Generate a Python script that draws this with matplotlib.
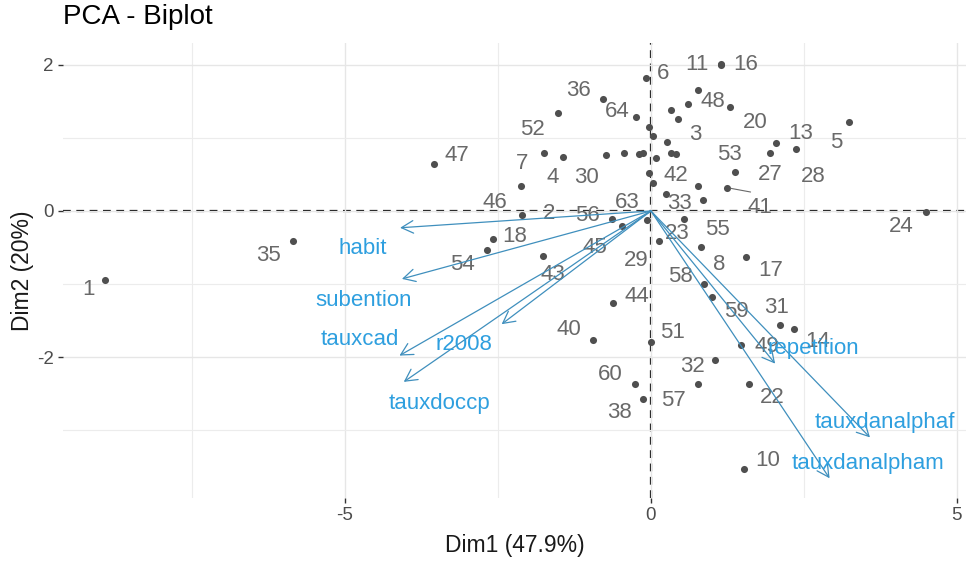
import matplotlib.pyplot as plt
import numpy as np

plt.rcParams['font.family'] = ['Liberation Sans', 'DejaVu Sans']
plt.rcParams['axes.unicode_minus'] = False

# individuals
ind_ids = [1, 35, 47, 54, 18, 46, 2, 7, 43, 52, 4, 40, 36, 30, 44, 56, 45, 60,
           64, 38, 6, 63, 51, 29, 33, 23, 3, 42, 48, 11, 16, 55, 8, 58, 59, 32,
           57, 41, 53, 20, 49, 10, 17, 22, 27, 13, 31, 14, 28, 5, 24,
           9, 12, 15, 19, 21, 25, 26, 34, 37, 39, 50, 61, 62]
ind_x = [-8.92, -5.85, -3.55, -2.68, -2.58, -2.13, -2.10, -1.74, -1.76, -1.52,
         -1.43, -0.94, -0.78, -0.74, -0.62, -0.64, -0.48, -0.26, -0.25, -0.13,
         -0.08, -0.07, 0.00, 0.13, 0.24, 0.54, 0.45, 0.77, 0.77, 1.14, 1.15,
         0.85, 0.82, 0.87, 1.00, 1.05, 0.77, 1.24, 1.37, 1.29, 1.47, 1.52, 1.55,
         1.61, 1.94, 2.05, 2.11, 2.34, 2.37, 3.24, 4.49,
         0.32, 0.61, 0.26, 0.33, 0.41, -0.44, -0.20, -0.13, -0.03, -0.03, 0.03,
         0.04, 0.08]
ind_y = [-0.94, -0.41, 0.65, -0.54, -0.38, 0.34, -0.06, 0.80, -0.61, 1.34,
         0.74, -1.77, 1.53, 0.76, -1.26, -0.11, -0.21, -2.37, 1.28, -2.57,
         1.82, -0.13, -1.80, -0.41, 0.23, -0.11, 1.26, 0.34, 1.66, 2.01, 2.00,
         0.15, -0.50, -1.00, -1.18, -2.04, -2.37, 0.32, 0.54, 1.42, -1.84, -3.53,
         -0.63, -2.37, 0.80, 0.93, -1.56, -1.62, 0.85, 1.22, -0.01,
         1.38, 1.47, 0.95, 0.80, 0.78, 0.79, 0.78, 0.80, 1.15, 0.52, 0.38,
         1.02, 0.73]

# variables (arrow tips)
var_names = ['habit', 'subention', 'tauxcad', 'tauxdoccp', 'r2008',
             'repetition', 'tauxdanalphaf', 'tauxdanalpham']
var_x = [-4.10, -4.07, -4.11, -4.04, -2.44, 2.03, 3.58, 2.92]
var_y = [-0.23, -0.93, -1.98, -2.34, -1.55, -2.09, -3.10, -3.66]

# label placement (offset in pixels from the point), like ggrepel did
ind_off = {
    1: (-17, -10), 35: (-25, -15), 47: (23, 8), 54: (-25, -14), 18: (22, 2),
    46: (-26, -16), 2: (27, 2), 7: (-22, -11), 43: (10, -19), 52: (-25, -16),
    4: (-11, -21), 40: (-25, 11), 36: (-25, 9), 30: (-19, -22), 44: (24, 6),
    56: (-24, 4), 45: (-27, -21), 60: (-25, 10), 64: (-18, 6), 38: (-23, -14),
    6: (17, 5), 63: (-19, 18), 51: (22, 10), 29: (-23, -20), 33: (14, -9),
    23: (-7, -14), 3: (17, -16), 42: (-22, 11), 48: (15, -12), 11: (-24, 0),
    16: (24, 0), 55: (15, -29), 8: (18, -17), 58: (-24, 8), 59: (24, -14),
    32: (-23, -7), 57: (-25, -16), 41: (33, -20), 53: (-5, 17), 20: (25, -15),
    49: (26, -1), 10: (24, 8), 17: (25, -14), 22: (23, -13), 27: (1, -22),
    13: (24, 10), 31: (-3, 17), 14: (24, -12), 28: (17, -28), 5: (-13, -21),
    24: (-24, -15),
}
var_off = {
    'habit': (-37, -21), 'subention': (-38, -22), 'tauxcad': (-40, 16),
    'tauxdoccp': (36, -22), 'r2008': (-38, -20), 'repetition': (38, 15),
    'tauxdanalphaf': (15, 15), 'tauxdanalpham': (38, 15),
}

col_ind = '#696969'
col_var = '#2E9FDF'

fig = plt.figure(figsize=(9.66, 5.65), dpi=100)
ax = fig.add_axes([63 / 966, 1 - 498 / 565, 1 - 63 / 966, (498 - 43) / 565])

ax.set_xlim(-9.61, 5.15)
ax.set_ylim(-3.93, 2.30)
ax.set_xticks([-5, 0, 5])
ax.set_xticks([-7.5, -2.5, 2.5], minor=True)
ax.set_yticks([-2, 0, 2])
ax.set_yticks([-3, -1, 1], minor=True)
ax.grid(True, which='major', color='#e6e6e6', lw=1.0, zorder=0)
ax.grid(True, which='minor', color='#ececec', lw=0.8, zorder=0)
ax.tick_params(which='major', length=3.5, width=1.0, color='#333333',
               labelsize=13.5, labelcolor='#4d4d4d', pad=3)
ax.tick_params(which='minor', length=0)
for s in ax.spines.values():
    s.set_visible(False)

ax.axhline(0, color='black', lw=1.6, dashes=(3.5, 2.5), zorder=1)
ax.axvline(0, color='black', lw=1.6, dashes=(3.5, 2.5), zorder=1)

ax.scatter(ind_x, ind_y, s=26, color='#4f4f4f', lw=0, zorder=3)
for i, x, y in zip(ind_ids, ind_x, ind_y):
    if i not in ind_off:
        continue
    dx, dy = ind_off[i]
    ax.annotate(str(i), (x, y), xytext=(dx, dy), textcoords='offset pixels',
                ha='center', va='center', fontsize=16, color=col_ind, zorder=4)
    if i == 41:
        ax.annotate('', (x, y), xytext=(dx * 0.72, dy * 0.22),
                    textcoords='offset pixels',
                    arrowprops=dict(arrowstyle='-', color=col_ind, lw=0.8,
                                    shrinkA=0, shrinkB=3), zorder=4)

for name, x, y in zip(var_names, var_x, var_y):
    ax.annotate('', xy=(x, y), xytext=(0, 0),
                arrowprops=dict(arrowstyle='->,head_length=0.85,head_width=0.45',
                                color='#3f8fbd', lw=0.9, shrinkA=0, shrinkB=0,
                                mutation_scale=10), zorder=5)
    dx, dy = var_off[name]
    ax.annotate(name, (x, y), xytext=(dx, dy), textcoords='offset pixels',
                ha='center', va='center', fontsize=16, color=col_var, zorder=6)

ax.set_xlabel('Dim1 (47.9%)', fontsize=16.5, color='#1a1a1a', labelpad=7)
ax.set_ylabel('Dim2 (20%)', fontsize=16.5, color='#1a1a1a', labelpad=2)
fig.text(63 / 966, 1 - 17 / 565, 'PCA - Biplot', fontsize=20, color='black',
         ha='left', va='center')

fig.savefig('out.png', dpi=100)
